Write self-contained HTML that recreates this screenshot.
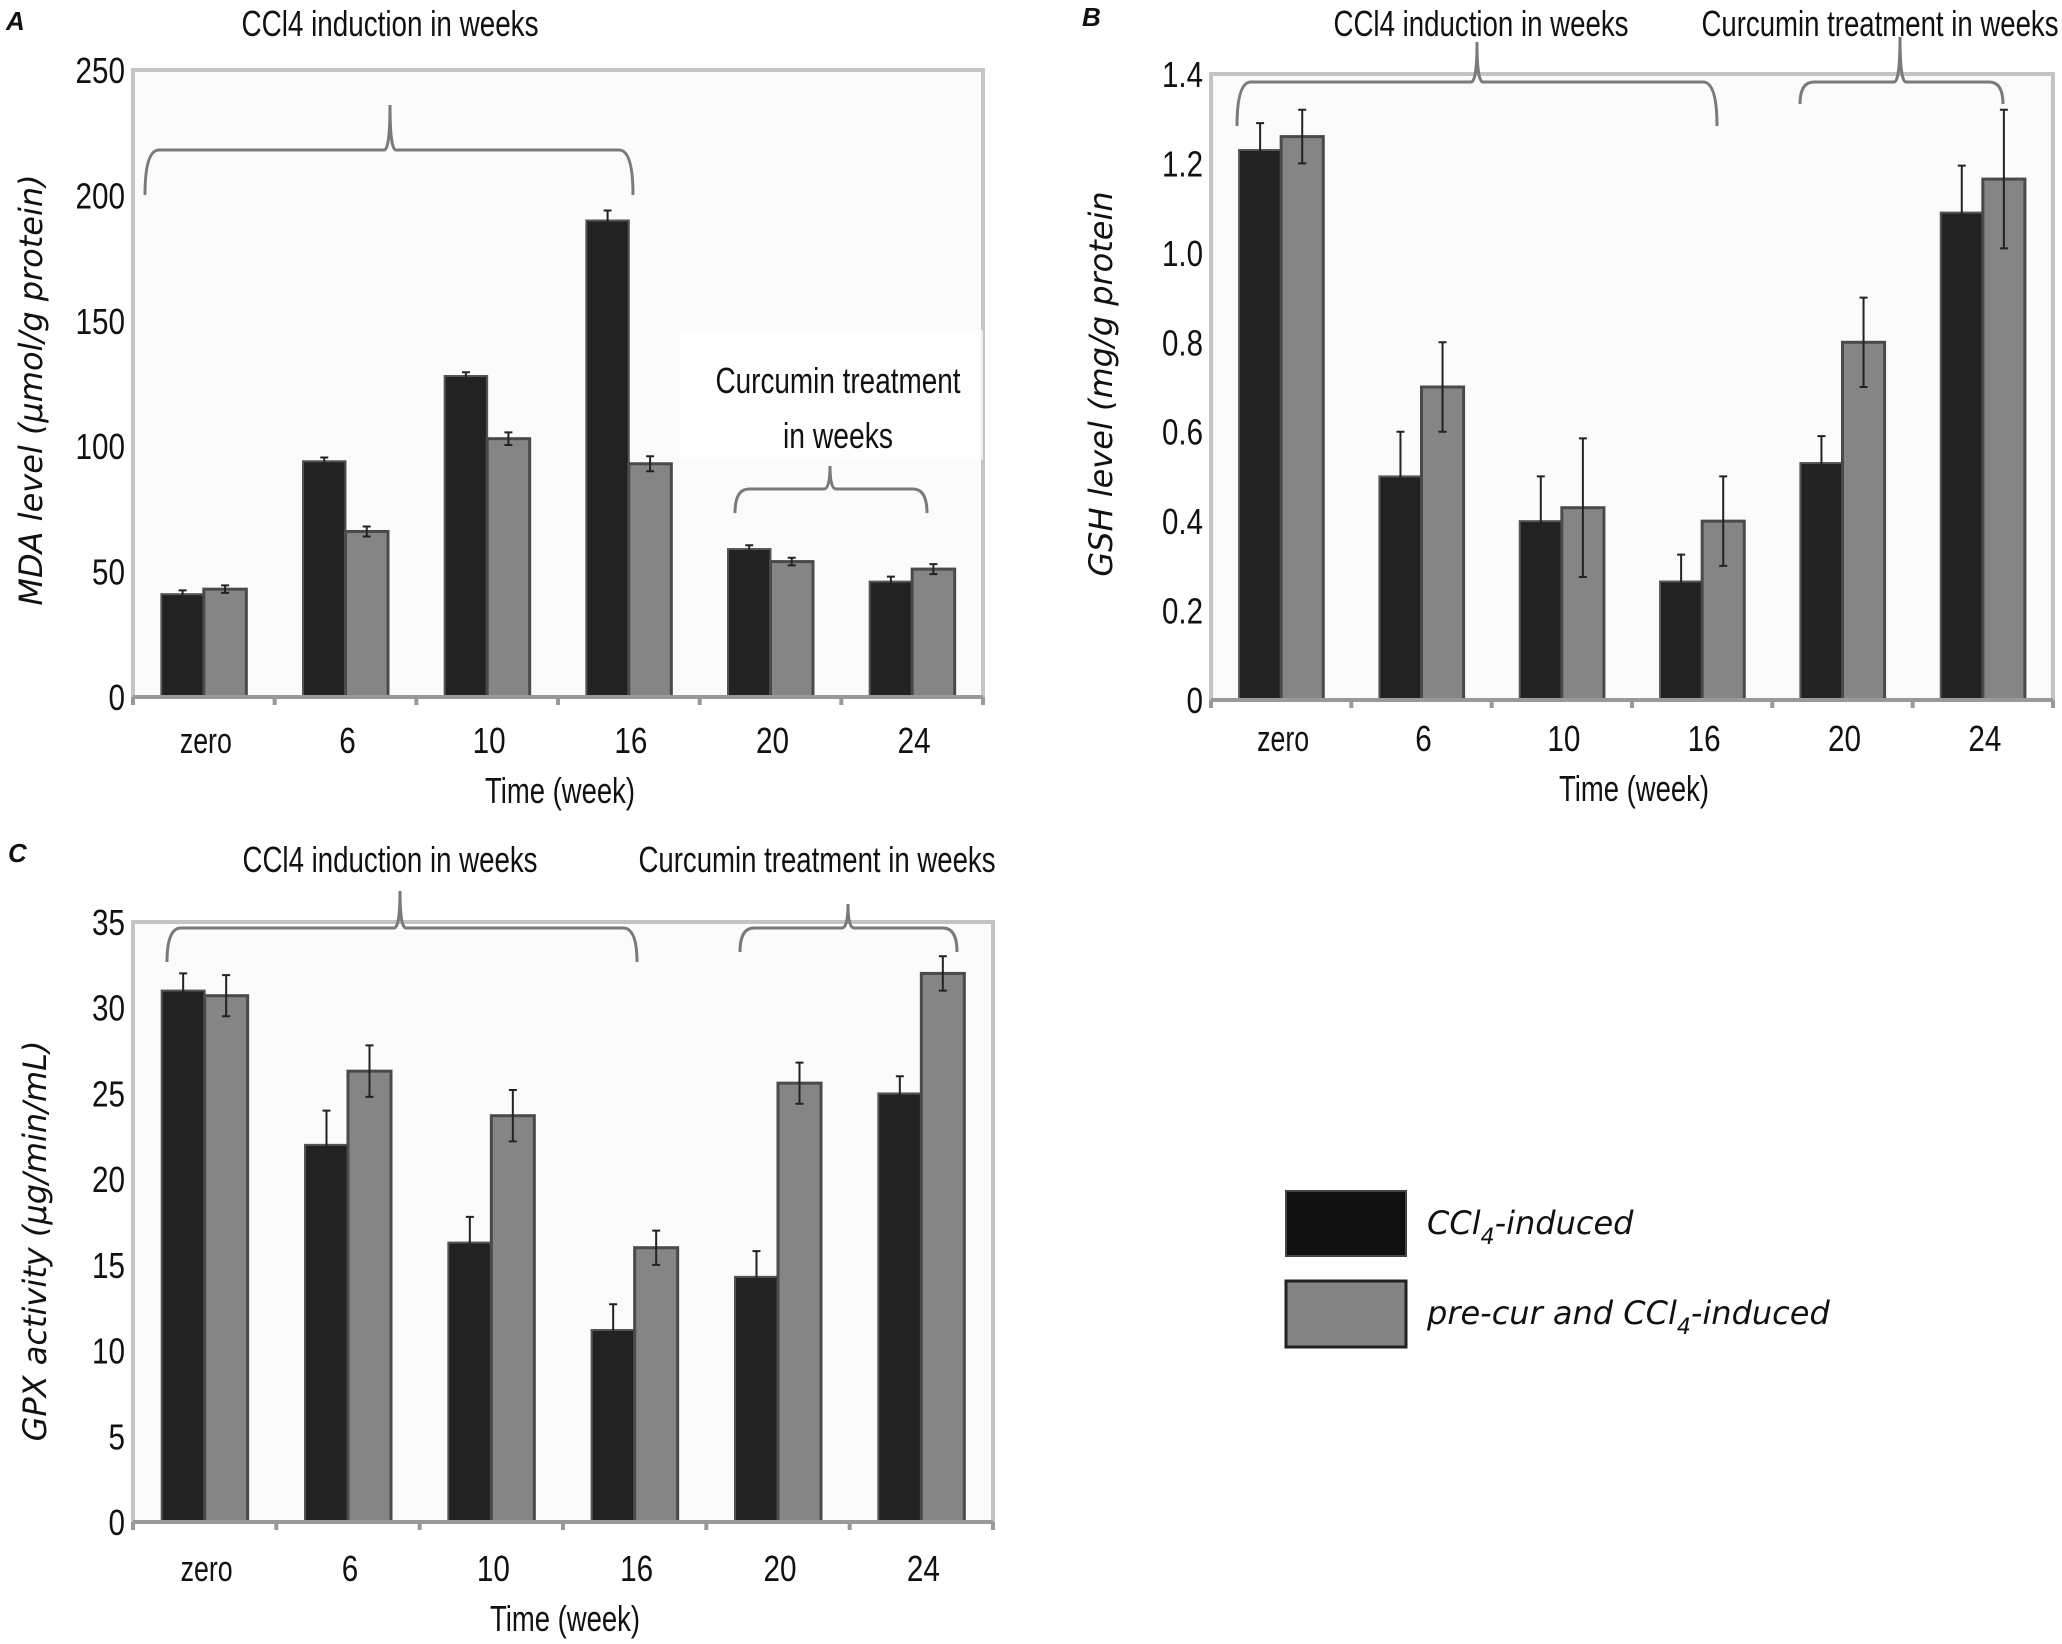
<!DOCTYPE html>
<html><head><meta charset="utf-8"><style>
html,body{margin:0;padding:0;background:#fff}
svg{display:block}
.tk{font-family:"Liberation Sans Narrow","Liberation Sans",sans-serif;font-size:36px;fill:#111}
.yl{font-family:"DejaVu Sans","Liberation Sans",sans-serif;font-style:italic;font-size:32px;fill:#111}
.pl{font-family:"Liberation Sans",sans-serif;font-style:italic;font-weight:bold;font-size:26px;fill:#111}
.lg{font-family:"DejaVu Sans","Liberation Sans",sans-serif;font-style:italic;font-size:32px;fill:#111}
</style></head><body>
<svg id="fig" width="2062" height="1644" viewBox="0 0 2062 1644" xmlns="http://www.w3.org/2000/svg">
<text class="pl" x="6" y="30">A</text>
<text class="pl" x="1082" y="26">B</text>
<text class="pl" x="8" y="862">C</text>
<g>
<rect x="1286" y="1191" width="120" height="65" fill="#101010" stroke="#444" stroke-width="2"/>
<text class="lg" x="1427" y="1234">CCl<tspan dy="10" font-size="22">4</tspan><tspan dy="-10">-induced</tspan></text>
<rect x="1286" y="1281" width="120" height="66" fill="#838383" stroke="#222" stroke-width="3"/>
<text class="lg" x="1427" y="1324">pre-cur and CCl<tspan dy="10" font-size="22">4</tspan><tspan dy="-10">-induced</tspan></text>
</g>
</svg>
<script>
const categories = ["zero","6","10","16","20","24"];
const mdaDark = [41,94,128,190,59,46];
const mdaGray = [43,66,103,93,54,51];
const mdaDarkErr = [1.5,1.5,1.5,4,1.5,2];
const mdaGrayErr = [1.5,2,2.5,3,1.5,2];
const mdaTicks = [0,50,100,150,200,250];
const gshDark = [1.23,0.50,0.40,0.265,0.53,1.09];
const gshGray = [1.26,0.70,0.43,0.40,0.80,1.165];
const gshDarkErr = [0.06,0.10,0.10,0.06,0.06,0.105];
const gshGrayErr = [0.06,0.10,0.155,0.10,0.10,0.155];
const gshTicks = ["0","0.2","0.4","0.6","0.8","1.0","1.2","1.4"];
const gpxDark = [31,22,16.3,11.2,14.3,25];
const gpxGray = [30.7,26.3,23.7,16,25.6,32];
const gpxDarkErr = [1,2,1.5,1.5,1.5,1];
const gpxGrayErr = [1.2,1.5,1.5,1,1.2,1];
const gpxTicks = [0,5,10,15,20,25,30,35];

const NS="http://www.w3.org/2000/svg";
const svg=document.getElementById('fig');
function mk(tag,attrs,parent){const e=document.createElementNS(NS,tag);for(const k in attrs)e.setAttribute(k,attrs[k]);(parent||svg).appendChild(e);return e;}
function tw(s){let w=0;for(const ch of s){w+= (ch==='.')?8:(ch===' ')?8:(ch==='('||ch===')')?9:(/[0-9]/.test(ch)?16.5:(ch==='w'||ch==='m')?19:13);}return w;}

function panel(p){
  const g=mk('g',{});
  
  
  const L=p.left,R=p.right,T=p.top,B=p.bottom,max=p.max;
  const y=v=>B-(v/max)*(B-T);
  const cw=(R-L)/categories.length;
  const x=i=>L+(i+0.5)*cw;
  const bw=cw*0.3;
  const bg=mk('rect',{x:L,y:T,width:R-L,height:B-T,fill:'#fbfbfb',stroke:'#c4c4c4','stroke-width':4},g);
  
  
  p.ticks.forEach(t=>{
    const v=parseFloat(t);
    const tx=mk('text',{x:L-8,y:y(v)+13,'text-anchor':'end',class:'tk',textLength:tw(String(t)),lengthAdjust:'spacingAndGlyphs'},g);
    tx.textContent=t;
    
    
  });
  categories.forEach((c,i)=>{
    const d=mk('rect',{x:x(i)-bw,y:y(p.dark[i]),width:bw,height:B-y(p.dark[i]),fill:'#222',stroke:'#555','stroke-width':2},g);
    
    
    const q=mk('rect',{x:x(i),y:y(p.gray[i]),width:bw,height:B-y(p.gray[i]),fill:'#858585',stroke:'#4a4a4a','stroke-width':3},g);
    
    
    [[x(i)-bw/2,p.dark[i],p.darkErr[i]],[x(i)+bw/2,p.gray[i],p.grayErr[i]]].forEach(([cx,v,e])=>{
      const eb=mk('path',{d:`M${cx},${y(v+e)}V${y(v-e)}M${cx-4},${y(v+e)}H${cx+4}M${cx-4},${y(v-e)}H${cx+4}`,stroke:'#222','stroke-width':2,fill:'none'},g);
      
      
    });
    const lb=mk('text',{x:x(i)+2,y:p.xlabY,'text-anchor':'middle',class:'tk',textLength:tw(c),lengthAdjust:'spacingAndGlyphs'},g);
    lb.textContent=c;
    
    
  });
  let ax='M'+L+','+B+'H'+R;
  for(let i=0;i<=categories.length;i++){ax+='M'+(L+i*cw)+','+B+'v8';}
  const a=mk('path',{d:ax,stroke:'#999','stroke-width':4,fill:'none'},g);
  
  
  const xt=mk('text',{x:(L+R)/2+2,y:p.xlabY+50,'text-anchor':'middle',class:'tk',textLength:150,lengthAdjust:'spacingAndGlyphs'},g);
  xt.textContent='Time (week)';
  
  
  const yt=mk('text',{x:0,y:0,'text-anchor':'middle',class:'yl',transform:`translate(${p.ylabX},${p.ylabY}) rotate(-90)`},g);
  yt.textContent=p.ylabel;
  
  
  p.braces.forEach(b=>{
    const br=mk('path',{d:`M${b.l},${b.bot}Q${b.l},${b.top} ${b.l+14},${b.top}H${b.pk-6}Q${b.pk},${b.top} ${b.pk},${b.peak}Q${b.pk},${b.top} ${b.pk+6},${b.top}H${b.r-14}Q${b.r},${b.top} ${b.r},${b.bot}`,stroke:'#7a7a7a','stroke-width':3,fill:'none'},g);
    
    
  });
  p.titles.forEach(t=>{
    if(t.bg){const r=mk('rect',{x:t.bg[0],y:t.bg[1],width:t.bg[2],height:t.bg[3],fill:'#fff','fill-opacity':0.7},g);
      
      }
    const tt=mk('text',{x:t.x,y:t.y,'text-anchor':'middle',class:'tk',textLength:t.w,lengthAdjust:'spacingAndGlyphs'},g);
    tt.textContent=t.text;
    
    
  });
}

panel({id:'mda',left:133,right:983,top:70,bottom:697,max:250,ticks:mdaTicks.map(String),
  dark:mdaDark,gray:mdaGray,darkErr:mdaDarkErr,grayErr:mdaGrayErr,xlabY:753,
  ylabel:'MDA level (μmol/g protein)',ylabX:42,ylabY:390,
  braces:[{l:145,r:633,pk:390,top:150,bot:195,peak:105},{l:735,r:927,pk:830,top:489,bot:513,peak:466}],
  titles:[{text:'CCl4 induction in weeks',x:390,y:36,w:297},
    {text:'Curcumin treatment',x:838,y:393,w:245,bg:[680,330,303,130]},{text:'in weeks',x:838,y:448,w:110}]});
panel({id:'gsh',left:1211,right:2053,top:74,bottom:700,max:1.4,ticks:gshTicks,
  dark:gshDark,gray:gshGray,darkErr:gshDarkErr,grayErr:gshGrayErr,xlabY:751,
  ylabel:'GSH level (mg/g protein',ylabX:1112,ylabY:384,
  braces:[{l:1237,r:1717,pk:1477,top:82,bot:126,peak:42},{l:1800,r:2003,pk:1900,top:82,bot:104,peak:37}],
  titles:[{text:'CCl4 induction in weeks',x:1481,y:36,w:295},{text:'Curcumin treatment in weeks',x:1880,y:36,w:357}]});
panel({id:'gpx',left:133,right:993,top:922,bottom:1522,max:35,ticks:gpxTicks.map(String),
  dark:gpxDark,gray:gpxGray,darkErr:gpxDarkErr,grayErr:gpxGrayErr,xlabY:1581,
  ylabel:'GPX activity (μg/min/mL)',ylabX:46,ylabY:1241,
  braces:[{l:167,r:637,pk:400,top:928,bot:962,peak:891},{l:740,r:957,pk:848,top:928,bot:952,peak:904}],
  titles:[{text:'CCl4 induction in weeks',x:390,y:872,w:295},{text:'Curcumin treatment in weeks',x:817,y:872,w:357}]});
</script>
</body></html>
